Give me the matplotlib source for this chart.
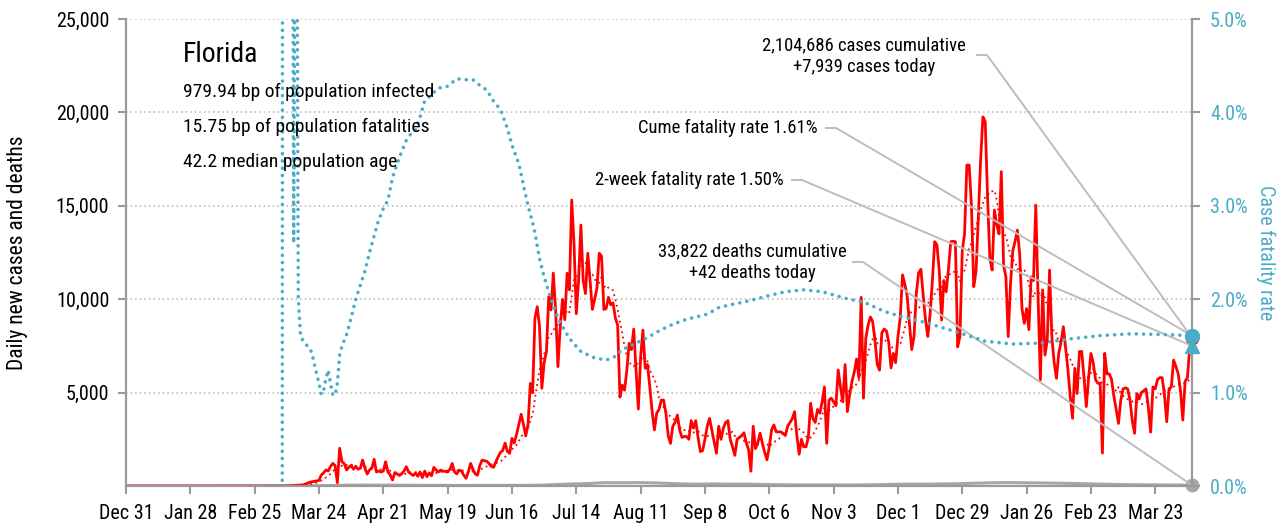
import numpy as np
import pandas as pd
import matplotlib
matplotlib.use("Agg")
import matplotlib.pyplot as plt
from matplotlib import font_manager as fm
from matplotlib.ticker import FixedLocator, FuncFormatter

# pick a condensed sans that is installed
fonts = {(f.name, f.stretch) for f in fm.fontManager.ttflist}
names = {n for n, s in fonts}
family, stretch = "Open Sans", "condensed"
for cand in ["Roboto Condensed", "Archivo Narrow", "PT Sans Narrow",
             "Liberation Sans Narrow", "Open Sans Condensed"]:
    if cand in names:
        family, stretch = cand, "normal"
        break
else:
    if ("Roboto", "condensed") in fonts:
        family, stretch = "Roboto", "condensed"
plt.rcParams['font.family'] = [family, 'DejaVu Sans']
plt.rcParams['font.stretch'] = stretch

# --- data -----------------------------------------------------------------
start_date = "2019-12-31"
first_case_date = "2020-03-01"

# daily new cases from Mar 1 2020 to Apr 8 2021, one row per week
cases = [
    2, 0, 1, 3, 3, 5, 4,
    4, 7, 10, 12, 15, 25, 30,
    40, 50, 60, 100, 150, 200, 230,
    250, 270, 300, 590, 700, 860, 800,
    1035, 1210, 1100, 180, 2020, 1300, 1200,
    860, 1000, 1100, 900, 1050, 900, 950,
    1390, 950, 640, 860, 950, 1430, 750,
    800, 750, 800, 1300, 750, 590, 320,
    700, 650, 560, 650, 800, 1035, 750,
    650, 560, 700, 520, 750, 450, 800,
    500, 700, 550, 1000, 850, 750, 850,
    800, 780, 750, 900, 1210, 750, 650,
    850, 800, 580, 410, 750, 1210, 900,
    650, 580, 1100, 1390, 1350, 1330, 1200,
    1050, 1000, 1300, 1570, 1800, 1900, 2300,
    1850, 1750, 2550, 2300, 2760, 3300, 3840,
    3300, 2680, 3300, 5490, 4990, 8980, 9600,
    8530, 5230, 6590, 7200, 10130, 9420, 11400,
    9400, 6390, 8500, 9990, 8900, 11390, 10500,
    15310, 13000, 9220, 11000, 13970, 11000, 10300,
    12460, 11000, 9450, 10000, 10600, 12460, 12300,
    9450, 9500, 10100, 9700, 9800, 9000, 8600,
    4760, 5400, 5130, 6200, 7640, 7300, 8400,
    6200, 4120, 6900, 8350, 6300, 6500, 5300,
    4000, 3000, 3900, 4100, 4600, 4600, 3900,
    2700, 2280, 3200, 3400, 3800, 3000, 2600,
    2650, 2650, 2500, 3500, 3100, 3500, 2600,
    1840, 1900, 2500, 3200, 3620, 3000, 2400,
    1750, 3200, 2500, 3100, 3400, 3500, 2500,
    2100, 1640, 2500, 2600, 2700, 2850, 2300,
    1950, 790, 3200, 2000, 2300, 2830, 2280,
    1800, 1400, 2100, 3000, 3270, 2900, 2900,
    2900, 2820, 2700, 3200, 3400, 3600, 3980,
    2700, 1700, 2500, 2100, 2100, 2600, 4430,
    3600, 3400, 4100, 3900, 4500, 5300, 2280,
    4600, 4700, 4500, 4300, 6210, 5300, 4500,
    6500, 3980, 4900, 5600, 6100, 6800, 5800,
    10100, 4700, 7900, 8600, 9050, 8800, 7800,
    6500, 6200, 8200, 8400, 8300, 7700, 6320,
    7100, 6600, 8000, 9000, 11300, 10800, 10200,
    8700, 7300, 8000, 10300, 11400, 11600, 10200,
    8900, 8000, 9200, 11000, 13080, 12900, 11500,
    8880, 11000, 10400, 11600, 13080, 13100, 13080,
    7450, 8000, 12600, 13500, 17180, 17180, 15000,
    10670, 11500, 14400, 17500, 19760, 19500, 15500,
    12200, 11560, 14770, 14000, 13500, 16830, 11800,
    11200, 8000, 10800, 12600, 13100, 13700, 12400,
    9500, 8710, 9500, 8370, 11200, 11000, 15040,
    10100, 5680, 10500, 7010, 7800, 11560, 7990,
    6600, 5760, 7100, 7700, 8530, 7400, 6200,
    4800, 3620, 6300, 4950, 7200, 7200, 5800,
    4250, 5800, 7100, 6600, 5700, 5500, 5500,
    1760, 7100, 6000, 6000, 5700, 4800, 4100,
    3350, 4600, 5200, 5250, 5200, 4600, 3500,
    2820, 4950, 4650, 5000, 5100, 5200, 4200,
    2880, 5300, 5200, 5700, 5800, 5800, 4900,
    3440, 5200, 5300, 6740, 6400, 6000, 5100,
    3530, 5600, 5800, 7400, 7939,
]

# average daily deaths per week, weeks starting Mar 1 2020
deaths_weekly = [
    0, 1, 2, 8, 25, 45, 50, 45, 45, 40, 35, 35, 30, 35, 35, 35, 35, 45,
    75, 110, 130, 180, 175, 180, 170, 140, 110, 100, 110, 100, 100, 80,
    70, 60, 60, 60, 55, 60, 70, 90, 100, 100, 110, 120, 150, 170, 180,
    175, 165, 155, 140, 120, 100, 80, 70, 60, 55, 50,
]
deaths_today = 42

# cumulative case fatality rate (%), by day since Dec 31 2019
cfr_day = [61, 68, 69, 70, 71, 72, 73, 74, 75, 76, 77, 78, 79, 80, 81, 82,
           83, 84, 85, 86, 87, 88, 89, 90, 91, 92, 93, 94, 95, 96, 98, 100,
           102, 104, 106, 108, 110, 112, 114, 116, 118, 120, 122, 124, 126,
           128, 130, 133, 136, 140, 144, 148, 151, 154, 157, 160, 163, 166,
           168, 171, 173, 175, 177, 178, 180, 182, 185, 188, 191, 194, 198,
           204, 209, 212, 216, 222, 227, 232, 237, 242, 248, 253, 258, 263,
           269, 274, 280, 287, 295, 303, 313, 322, 330, 338, 348, 356, 364,
           374, 386, 398, 409, 424, 438, 453, 464]
cfr_pct = [0, 0, 40, 30, 20, 12, 2.6, 9.0, 2.0, 1.6, 1.56, 1.52, 1.5, 1.47,
           1.42, 1.3, 1.2, 1.1, 0.98, 1.02, 1.15, 1.24, 1.1, 0.98, 0.97, 1.1,
           1.4, 1.5, 1.56, 1.62, 1.8, 2.0, 2.15, 2.3, 2.5, 2.68, 2.85, 2.97,
           3.06, 3.3, 3.45, 3.58, 3.7, 3.77, 3.81, 3.95, 4.12, 4.19, 4.26,
           4.28, 4.36, 4.35, 4.35, 4.29, 4.24, 4.12, 4.03, 3.83, 3.65, 3.45,
           3.22, 3.0, 2.82, 2.71, 2.43, 2.24, 2.0, 1.8, 1.66, 1.55, 1.44, 1.37,
           1.35, 1.37, 1.46, 1.53, 1.59, 1.66, 1.72, 1.77, 1.81, 1.84, 1.91,
           1.94, 1.97, 2.0, 2.04, 2.08, 2.1, 2.08, 2.01, 1.96, 1.87, 1.81,
           1.75, 1.69, 1.63, 1.55, 1.52, 1.53, 1.57, 1.61, 1.63, 1.62, 1.61]
cfr_today = 1.61
cfr_2week = 1.50

state = "Florida"
info_lines = ["979.94 bp of population infected",
              "15.75 bp of population fatalities",
              "42.2 median population age"]

# --- series ---------------------------------------------------------------
t0 = pd.Timestamp(start_date)
case_dates = pd.date_range(first_case_date, periods=len(cases), freq="D")
all_dates = pd.date_range(start_date, case_dates[-1], freq="D")
case_s = pd.Series(cases, index=case_dates, dtype=float).reindex(all_dates, fill_value=0)
case_avg = case_s.rolling(7, min_periods=1).mean()

death_dates = list(pd.date_range(first_case_date, periods=len(deaths_weekly), freq="7D"))
death_dates = [t0] + death_dates + [all_dates[-1]]
death_vals = [0] + deaths_weekly + [deaths_today]

cfr_dates = t0 + pd.to_timedelta(cfr_day, unit="D")
last = all_dates[-1]

RED = "#ff0000"
TEAL = "#4bacc6"
GREY = "#a6a6a6"
SPINE = "#9a9a9a"

W, H = 1278, 527
fig = plt.figure(figsize=(W / 100, H / 100), dpi=100)
ax = fig.add_axes([126 / W, 1 - 486 / H, 1066 / W, 467 / H])
ax2 = ax.twinx()

ymax = 25000
cfr_max = 5.0

ax.plot(case_s.index, case_s.values, color=RED, lw=2.0, zorder=3)
ax.plot(case_avg.index, case_avg.values, color=RED, lw=1.3,
        linestyle=(0, (1, 2)), zorder=4)
ax.plot(death_dates, death_vals, color=GREY, lw=2.2, zorder=2)
ax.plot([last], [cases[-1]], "o", color=RED, ms=9, zorder=5, clip_on=False)
ax.plot([last], [deaths_today], "o", color=GREY, ms=9, zorder=5, clip_on=False)

ax2.plot(cfr_dates, cfr_pct, color=TEAL, lw=2.6, linestyle=(0, (0.01, 2.0)),
         dash_capstyle="round", zorder=3)
ax2.plot([last], [cfr_today], "o", color=TEAL, ms=10, zorder=6, clip_on=False)
ax2.plot([last], [cfr_2week], "^", color=TEAL, ms=10, zorder=6, clip_on=False)

# axes setup
ax.set_xlim(t0, last)
ax.set_ylim(0, ymax)
ax2.set_ylim(0, cfr_max)

xticks = pd.date_range(start_date, periods=17, freq="28D")
ax.xaxis.set_major_locator(FixedLocator(matplotlib.dates.date2num(xticks)))
ax.set_xticklabels([f"{d:%b} {d.day}" for d in xticks])

ax.set_yticks(np.arange(5000, ymax + 1, 5000))
ax.yaxis.set_major_formatter(FuncFormatter(lambda v, p: f"{v:,.0f}"))
ax2.set_yticks(np.arange(0, cfr_max + 0.01, 1.0))
ax2.yaxis.set_major_formatter(FuncFormatter(lambda v, p: f"{v:.1f}%"))

for gy in np.arange(5000, ymax + 1, 5000):
    ax.axhline(gy, color="#b5b5b5", lw=1.1, linestyle=(0, (1, 2)), zorder=1)

for a in (ax, ax2):
    a.spines["top"].set_visible(False)
    for s in ("left", "right", "bottom"):
        a.spines[s].set_color(SPINE)
        a.spines[s].set_linewidth(1.5)

ax.tick_params(axis="x", length=6, width=1.5, color=SPINE, labelsize=14.5, pad=7)
ax.tick_params(axis="y", length=6, width=1.5, color=SPINE, labelsize=14.5, pad=6)
ax2.tick_params(axis="y", length=6, width=1.5, color=SPINE, labelsize=14.5,
                labelcolor=TEAL, pad=7)

ax.set_ylabel("Daily new cases and deaths", fontsize=15.5, labelpad=20)
ax2.set_ylabel("Case fatality rate", fontsize=14.5, color=TEAL, rotation=270,
               labelpad=20)

# header text
def fx(px):
    return (px - 126) / 1066

def fy(py):
    return (486 - py) / 467

ax2.text(fx(183), fy(62), state, transform=ax.transAxes, fontsize=20, va="baseline")
for i, line in enumerate(info_lines):
    ax2.text(fx(183), fy(97 + 35 * i), line, transform=ax.transAxes,
             fontsize=14, va="baseline")

# annotations with leader lines to the last values
notes = [
    ("2,104,686 cases cumulative\n+7,939 cases today", (864, 56), "center",
     (977, 55), cases[-1] / ymax),
    ("Cume fatality rate 1.61%", (818, 128), "right", (826, 128), cfr_today / cfr_max),
    ("2-week fatality rate 1.50%", (784, 180), "right", (792, 180), cfr_2week / cfr_max),
    ("33,822 deaths cumulative\n+42 deaths today", (752, 262), "center",
     (853, 262), deaths_today / ymax),
]
for text, (tx, ty), ha, (lx, ly), yend in notes:
    ax2.text(fx(tx), fy(ty), text, transform=ax.transAxes, fontsize=13.4,
             ha=ha, va="center", multialignment="center", linespacing=1.3)
    ax2.plot([fx(lx), fx(lx) + 10 / 1066, 1.0], [fy(ly), fy(ly), yend],
             transform=ax.transAxes, color="#bdbdbd", lw=1.4, zorder=2,
             clip_on=False)

fig.savefig("out.png", dpi=100)
